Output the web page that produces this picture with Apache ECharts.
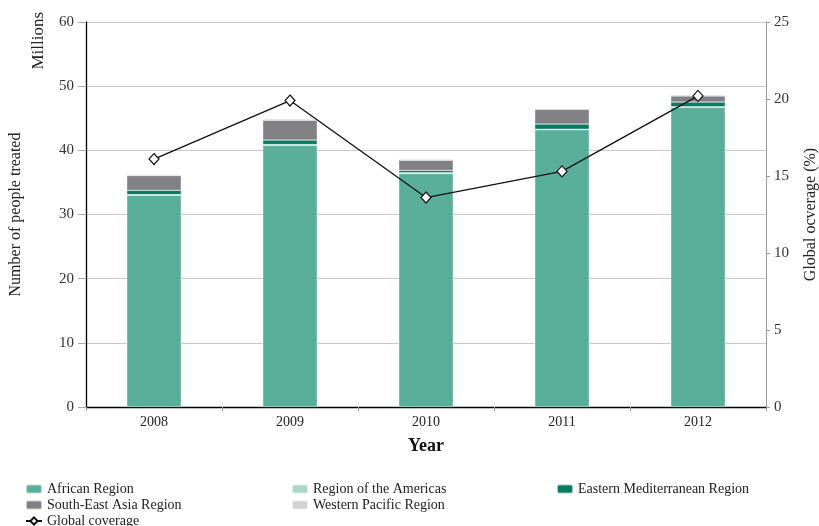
<!DOCTYPE html>
<html><head><meta charset="utf-8">
<script src="https://cdn.jsdelivr.net/npm/echarts@6/dist/echarts.min.js"></script>
<style>html,body{margin:0;padding:0;background:#fff}#c{width:819px;height:526px}</style>
</head><body><div id="c"></div>
<script>
var years = ['2008','2009','2010','2011','2012'];
var african = [33.0, 40.8, 36.4, 43.2, 46.7];
var americas = [0.1, 0.1, 0.1, 0.1, 0.1];
var eastMed = [0.67, 0.7, 0.37, 0.8, 0.72];
var seAsia = [2.3, 3.1, 1.6, 2.3, 0.95];
var westPac = [0.15, 0.2, 0.15, 0.1, 0.2];
var coverage = [16.1, 19.9, 13.6, 15.3, 20.2];
var leftTicks = [0, 10, 20, 30, 40, 50, 60];
var rightTicks = [0, 5, 10, 15, 20, 25];

var F = 'Liberation Serif';
var colors = {af:'#5AAF9B', am:'#A9D6C9', em:'#0A7A60', sea:'#818185', wp:'#D2D2D2'};
function bar(name, data, color){
  return {name:name, type:'bar', stack:'s', data:data, barWidth:'40%',
    itemStyle:{color:color, borderColor:'rgba(255,255,255,0.6)', borderWidth:0.5}};
}
var chart = echarts.init(document.getElementById('c'), null, {renderer:'canvas'});
function lg(left, data){
  return {orient:'vertical', left:left, top:477, height:60, itemWidth:16, itemHeight:9, itemGap:2,
    textStyle:{fontFamily:F, fontSize:14, color:'#222'}, data:data};
}
chart.setOption({
  animation:false,
  textStyle:{fontFamily:F},
  grid:{left:86, right:53, top:22, bottom:119, outerBoundsMode:'none', containLabel:false},
  xAxis:{type:'category', data:years,
    axisLine:{lineStyle:{color:'#000', width:1.3}},
    axisTick:{show:true, length:4, lineStyle:{color:'#999'}},
    axisLabel:{fontFamily:F, fontSize:14, color:'#222', margin:8},
    name:'Year', nameLocation:'middle', nameGap:30,
    nameTextStyle:{fontFamily:F, fontSize:18, fontWeight:'bold', color:'#111'}},
  yAxis:[
    {type:'value', min:leftTicks[0], max:leftTicks[leftTicks.length-1], interval:10,
     axisLine:{show:true, lineStyle:{color:'#000', width:1.3}},
     axisTick:{show:true, length:8, lineStyle:{color:'#aaa'}},
     axisLabel:{fontFamily:F, fontSize:15, color:'#333', margin:12},
     splitLine:{lineStyle:{color:'#c8c8c8', width:1}},
     name:'Number of people treated', nameLocation:'middle', nameGap:62, nameRotate:90,
     nameTextStyle:{fontFamily:F, fontSize:16, color:'#222'}},
    {type:'value', min:rightTicks[0], max:rightTicks[rightTicks.length-1], interval:5,
     axisLine:{show:true, lineStyle:{color:'#999', width:1}},
     axisTick:{show:true, length:4, lineStyle:{color:'#999'}},
     axisLabel:{fontFamily:F, fontSize:15, color:'#333', margin:8},
     splitLine:{show:false},
     name:'Global ocverage (%)', nameLocation:'middle', nameGap:37, nameRotate:90,
     nameTextStyle:{fontFamily:F, fontSize:16, color:'#222'}}
  ],
  legend:[
    lg(20, ['African Region','South-East Asia Region','Global coverage']),
    lg(286, ['Region of the Americas','Western Pacific Region']),
    lg(551, ['Eastern Mediterranean Region'])
  ],
  graphic:[{type:'text', left:30, top:12, rotation:Math.PI/2,
    style:{text:'Millions', font:'17px "Liberation Serif"', fill:'#222'}}],
  series:[
    bar('African Region', african, colors.af),
    bar('Region of the Americas', americas, colors.am),
    bar('Eastern Mediterranean Region', eastMed, colors.em),
    bar('South-East Asia Region', seAsia, colors.sea),
    bar('Western Pacific Region', westPac, colors.wp),
    {name:'Global coverage', type:'line', yAxisIndex:1, data:coverage,
     symbol:'diamond', symbolSize:[10,11], lineStyle:{color:'#111', width:1.3},
     itemStyle:{color:'#fff', borderColor:'#111', borderWidth:1.2}}
  ]
});
</script></body></html>
